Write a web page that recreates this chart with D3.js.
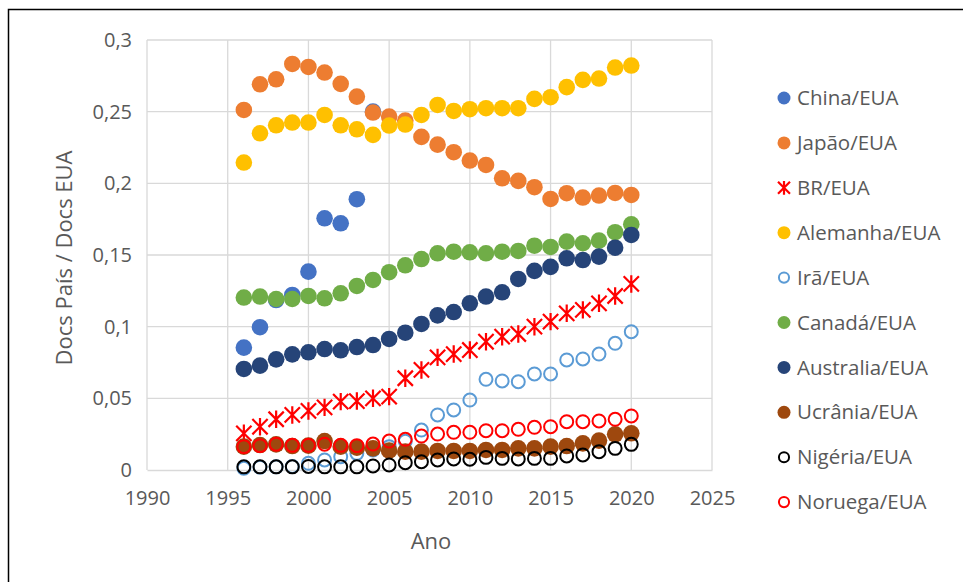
<!DOCTYPE html>
<html>
<head>
<meta charset="utf-8">
<script src="https://cdn.jsdelivr.net/npm/d3@7"></script>
<style>
  html, body { margin: 0; padding: 0; background: #fff; }
  svg text { font-family: "Open Sans", "Noto Sans", sans-serif; fill: #595959; }
</style>
</head>
<body>
<svg id="chart" width="963" height="582"></svg>
<script>
// Years 1996–2020
const years = d3.range(1996, 2021);

// Ratio of documents: country / USA
const china = [0.0854, 0.0996, 0.1186, 0.1221, 0.1384, 0.1756, 0.1721, 0.1889, 0.2500];
const japao = [0.2512, 0.2691, 0.2726, 0.2833, 0.2812, 0.2773, 0.2694, 0.2605, 0.2494, 0.2466,
               0.2438, 0.2324, 0.2270, 0.2217, 0.2159, 0.2128, 0.2035, 0.2017, 0.1973, 0.1891,
               0.1931, 0.1901, 0.1915, 0.1933, 0.1919];
const br = [0.0256, 0.0302, 0.0354, 0.0384, 0.0412, 0.0437, 0.0477, 0.0481, 0.0500, 0.0512,
            0.0640, 0.0698, 0.0786, 0.0809, 0.0837, 0.0895, 0.0930, 0.0949, 0.1000, 0.1035,
            0.1093, 0.1117, 0.1163, 0.1214, 0.1298];
const alemanha = [0.2145, 0.2349, 0.2405, 0.2424, 0.2424, 0.2477, 0.2405, 0.2377, 0.2338, 0.2403,
                  0.2410, 0.2477, 0.2547, 0.2505, 0.2517, 0.2524, 0.2524, 0.2524, 0.2589, 0.2601,
                  0.2671, 0.2722, 0.2731, 0.2808, 0.2822];
const ira = [0.0012, 0.0020, 0.0022, 0.0025, 0.0047, 0.0070, 0.0093, 0.0116, 0.0140, 0.0163,
             0.0200, 0.0279, 0.0384, 0.0419, 0.0488, 0.0633, 0.0621, 0.0616, 0.0670, 0.0670,
             0.0768, 0.0775, 0.0809, 0.0884, 0.0965];
const canada = [0.1203, 0.1210, 0.1193, 0.1193, 0.1214, 0.1198, 0.1233, 0.1284, 0.1326, 0.1380,
                0.1428, 0.1472, 0.1512, 0.1523, 0.1519, 0.1512, 0.1523, 0.1528, 0.1565, 0.1556,
                0.1593, 0.1582, 0.1600, 0.1659, 0.1714];
const australia = [0.0705, 0.0728, 0.0772, 0.0807, 0.0821, 0.0844, 0.0835, 0.0858, 0.0872, 0.0914,
                   0.0958, 0.1019, 0.1079, 0.1102, 0.1163, 0.1210, 0.1240, 0.1333, 0.1389, 0.1417,
                   0.1477, 0.1465, 0.1489, 0.1551, 0.1640];
const ucrania = [0.0163, 0.0174, 0.0179, 0.0167, 0.0170, 0.0202, 0.0163, 0.0156, 0.0151, 0.0135,
                 0.0128, 0.0128, 0.0133, 0.0133, 0.0133, 0.0140, 0.0140, 0.0151, 0.0151, 0.0163,
                 0.0167, 0.0186, 0.0205, 0.0249, 0.0256];
const nigeria = [0.0022, 0.0022, 0.0022, 0.0022, 0.0025, 0.0022, 0.0022, 0.0022, 0.0028, 0.0035,
                 0.0051, 0.0058, 0.0070, 0.0077, 0.0075, 0.0088, 0.0081, 0.0077, 0.0081, 0.0081,
                 0.0098, 0.0105, 0.0128, 0.0151, 0.0179];
const noruega = [0.0163, 0.0170, 0.0180, 0.0172, 0.0172, 0.0180, 0.0172, 0.0170, 0.0181, 0.0202,
                 0.0214, 0.0237, 0.0251, 0.0263, 0.0263, 0.0274, 0.0274, 0.0284, 0.0298, 0.0302,
                 0.0337, 0.0337, 0.0342, 0.0354, 0.0377];

// Axis ticks
const xTicks = [1990, 1995, 2000, 2005, 2010, 2015, 2020, 2025];
const yTicks = [0, 0.05, 0.1, 0.15, 0.2, 0.25, 0.3];

// Series definitions in drawing order
const series = [
  { name: "China/EUA",     values: china,     color: "#4472C4", marker: "dot" },
  { name: "Japão/EUA",     values: japao,     color: "#ED7D31", marker: "dot" },
  { name: "BR/EUA",        values: br,        color: "#FF0000", marker: "star" },
  { name: "Alemanha/EUA",  values: alemanha,  color: "#FFC000", marker: "dot" },
  { name: "Irã/EUA",       values: ira,       color: "#5B9BD5", marker: "ring" },
  { name: "Canadá/EUA",    values: canada,    color: "#70AD47", marker: "dot" },
  { name: "Australia/EUA", values: australia, color: "#264478", marker: "dot" },
  { name: "Ucrânia/EUA",   values: ucrania,   color: "#9E480E", marker: "dot" },
  { name: "Nigéria/EUA",   values: nigeria,   color: "#000000", marker: "ring" },
  { name: "Noruega/EUA",   values: noruega,   color: "#FF0000", marker: "ring" }
];

const svg = d3.select("#chart");

// Outer frame
svg.append("rect")
  .attr("x", 8.5).attr("y", 9.5)
  .attr("width", 980).attr("height", 600)
  .attr("fill", "none").attr("stroke", "#000").attr("stroke-width", 1.5);

const plot = { left: 147, right: 712, top: 40, bottom: 470 };

const x = d3.scaleLinear().domain([1990, 2025]).range([plot.left, plot.right]);
const y = d3.scaleLinear().domain([0, 0.3]).range([plot.bottom, plot.top]);

// Gridlines
const grid = svg.append("g").attr("stroke", "#d9d9d9").attr("stroke-width", 1.3);
grid.selectAll("line.h").data(yTicks.filter(v => v > 0)).join("line")
  .attr("x1", plot.left).attr("x2", plot.right)
  .attr("y1", d => y(d)).attr("y2", d => y(d));
grid.selectAll("line.v").data(xTicks).join("line")
  .attr("x1", d => x(d)).attr("x2", d => x(d))
  .attr("y1", plot.top).attr("y2", plot.bottom);

// Axes
const xAxis = svg.append("g")
  .attr("transform", `translate(0,${plot.bottom})`)
  .call(d3.axisBottom(x).tickValues(xTicks).tickFormat(d3.format("d")).tickSize(0).tickPadding(21));
xAxis.select(".domain").attr("stroke", "#d9d9d9").attr("stroke-width", 1.3);
xAxis.selectAll("text").attr("font-size", 20).attr("fill", "#595959");

const commaFmt = d => String(d).replace(".", ",");
const yAxis = svg.append("g")
  .attr("transform", `translate(${plot.left},0)`)
  .call(d3.axisLeft(y).tickValues(yTicks).tickFormat(commaFmt).tickSize(0).tickPadding(15));
yAxis.select(".domain").remove();
yAxis.selectAll("text").attr("font-size", 20).attr("fill", "#595959");

// Axis titles
svg.append("text")
  .attr("x", 431).attr("y", 549)
  .attr("text-anchor", "middle").attr("font-size", 22)
  .text("Ano");
svg.append("text")
  .attr("transform", "translate(72,258) rotate(-90)")
  .attr("text-anchor", "middle").attr("font-size", 22)
  .text("Docs País / Docs EUA");

// Marker drawing
function drawMarker(g, type, color, r) {
  if (type === "dot") {
    g.append("circle").attr("r", r).attr("fill", color);
  } else if (type === "ring") {
    g.append("circle").attr("r", r * 0.78).attr("fill", "none")
      .attr("stroke", color).attr("stroke-width", 2);
  } else if (type === "star") {
    const a = r * 1.05, d = r * 0.92;
    g.append("path")
      .attr("d", `M0,${-a}V${a}M${-d},${-d}L${d},${d}M${-d},${d}L${d},${-d}`)
      .attr("stroke", color).attr("stroke-width", 2.2).attr("fill", "none");
  }
}

const marks = svg.append("g");
series.forEach(s => {
  const sg = marks.append("g");
  s.values.forEach((v, i) => {
    if (v == null) return;
    const g = sg.append("g").attr("transform", `translate(${x(years[i])},${y(v)})`);
    drawMarker(g, s.marker, s.color, 8.3);
  });
});

// Legend
const legend = svg.append("g");
series.forEach((s, i) => {
  const ly = 98 + i * 44.9;
  const g = legend.append("g").attr("transform", `translate(784,${ly})`);
  drawMarker(g, s.marker, s.color, 6.5);
  legend.append("text")
    .attr("x", 797).attr("y", ly).attr("dy", "0.35em")
    .attr("font-size", 20.5)
    .text(s.name);
});
</script>
</body>
</html>
